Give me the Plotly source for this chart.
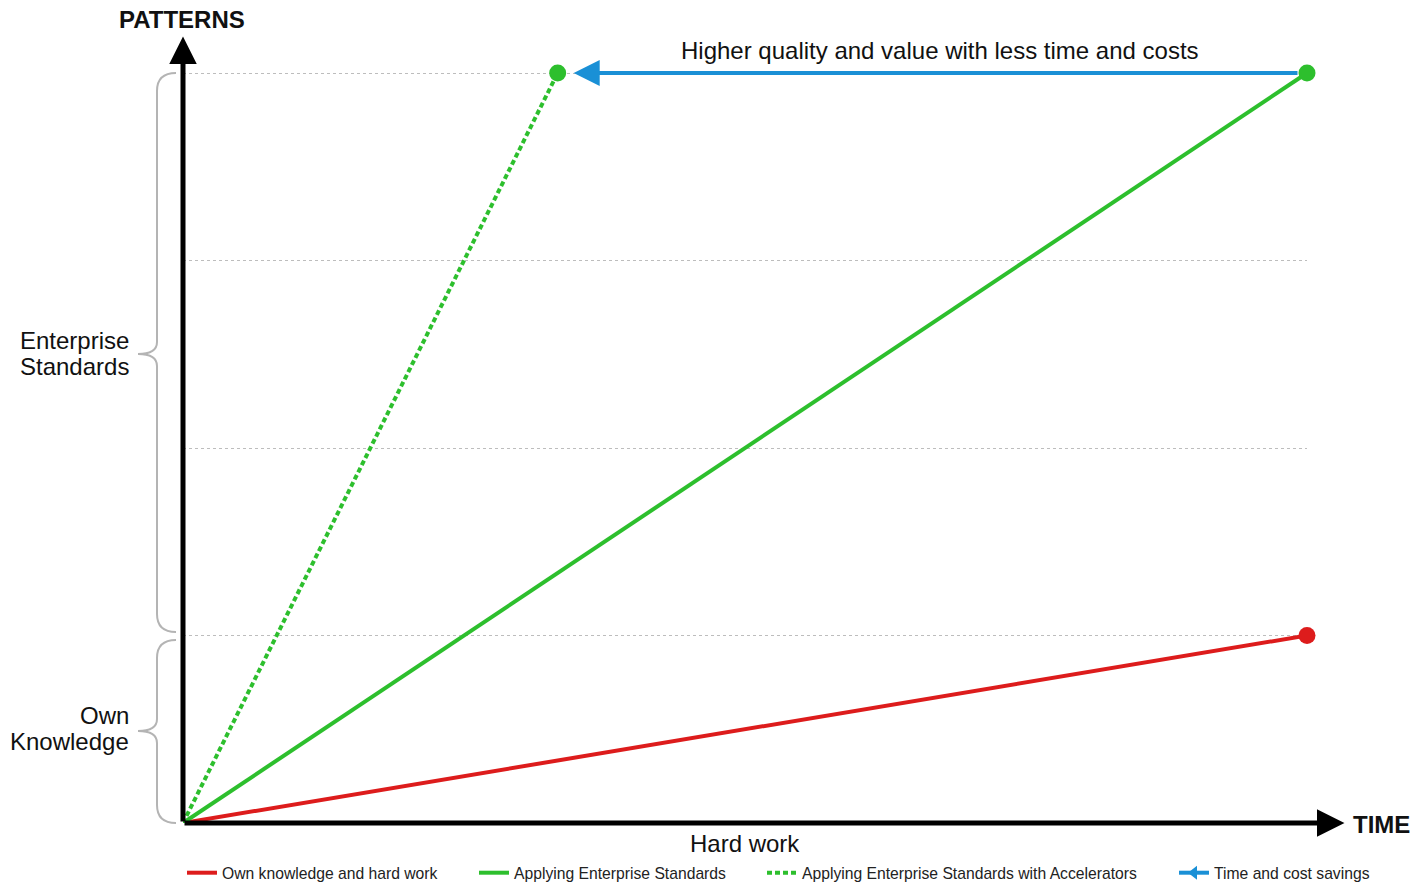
import plotly.graph_objects as go

# Series: effort (time) vs. patterns gained
own_x = [0, 3]
own_y = [0, 1]
std_x = [0, 3]
std_y = [0, 4]
acc_x = [0, 1]
acc_y = [0, 4]

series_names = [
    "Own knowledge and hard work",
    "Applying Enterprise Standards",
    "Applying Enterprise Standards with Accelerators",
    "Time and cost savings",
]

RED = "#dd1c1c"
GREEN = "#2dbf2d"
BLUE = "#1a90d6"
GREY = "#b4b4b4"
FONT = "Liberation Sans, Arial, sans-serif"

W, H = 1412, 882
L, R, T, B = 183, 105, 63, 59
PW, PH = W - L - R, H - T - B
Y_TOP = 4 * PH / 750  # leaves room so the top grid line is drawn inside the plot


def px(xp):
    return (xp - L) / PW


def py(yp):
    return (H - B - yp) / PH


fig = go.Figure()

fig.add_trace(go.Scatter(x=own_x, y=own_y, mode="lines", name=series_names[0],
                         line=dict(color=RED, width=4), legend="legend"))
fig.add_trace(go.Scatter(x=std_x, y=std_y, mode="lines", name=series_names[1],
                         line=dict(color=GREEN, width=4), legend="legend2"))
fig.add_trace(go.Scatter(x=acc_x, y=acc_y, mode="lines", name=series_names[2],
                         line=dict(color=GREEN, width=4, dash="5px,3px"), legend="legend3"))
fig.add_trace(go.Scatter(x=[None], y=[None], mode="lines+markers", name=series_names[3],
                         line=dict(color=BLUE, width=4), legend="legend4",
                         marker=dict(symbol="triangle-left", size=12, color=BLUE)))

# End-point markers
fig.add_trace(go.Scatter(x=[own_x[-1]], y=[own_y[-1]], mode="markers", showlegend=False,
                         marker=dict(color=RED, size=17), cliponaxis=False))
fig.add_trace(go.Scatter(x=[std_x[-1], acc_x[-1]], y=[std_y[-1], acc_y[-1]], mode="markers",
                         showlegend=False, marker=dict(color=GREEN, size=17), cliponaxis=False))

annotations = []

# Time and cost savings arrow
annotations.append(dict(x=acc_x[-1], y=acc_y[-1], ax=std_x[-1], ay=std_y[-1],
                        xref="x", yref="y", axref="x", ayref="y", text="",
                        showarrow=True, arrowhead=2, arrowsize=1.3, arrowwidth=4,
                        arrowcolor=BLUE, standoff=16, startstandoff=8))

# Axis arrows
annotations.append(dict(x=0, y=4.195, ax=0, ay=0, xref="x", yref="y", axref="x", ayref="y",
                        text="", showarrow=True, arrowhead=2, arrowsize=1.1, arrowwidth=5,
                        arrowcolor="black"))
annotations.append(dict(x=3.1, y=0, ax=0, ay=0, xref="x", yref="y", axref="x", ayref="y",
                        text="", showarrow=True, arrowhead=2, arrowsize=1.1, arrowwidth=5,
                        arrowcolor="black"))

# Text labels
labels = [
    dict(x=px(182), y=py(20), text="<b>PATTERNS</b>", xanchor="center"),
    dict(x=px(1351), y=py(824), text="<b>TIME</b>", xanchor="left"),
    dict(x=px(745), y=py(843), text="Hard work", xanchor="center"),
    dict(x=px(940), y=py(51), text="Higher quality and value with less time and costs",
         xanchor="center"),
    dict(x=px(131), y=py(340), text="Enterprise", xanchor="right"),
    dict(x=px(131), y=py(366), text="Standards", xanchor="right"),
    dict(x=px(131), y=py(715), text="Own", xanchor="right"),
    dict(x=px(131), y=py(741), text="Knowledge", xanchor="right"),
]
for a in labels:
    a.update(xref="paper", yref="paper", showarrow=False, yanchor="middle",
             font=dict(family=FONT, size=24, color="#111"))
annotations += labels


def brace(top, bottom, mid):
    xs, xv, xt = px(176), px(157), px(138)
    r = 18 / PH
    tip = 12 / PH
    t, b, m = py(top), py(bottom), py(mid)
    return (f"M {xs},{t} Q {xv},{t} {xv},{t - r} L {xv},{m + tip} "
            f"Q {xv},{m} {xt},{m} Q {xv},{m} {xv},{m - tip} "
            f"L {xv},{b + r} Q {xv},{b} {xs},{b}")


shapes = [
    dict(type="path", xref="paper", yref="paper", path=brace(73, 632, 354),
         line=dict(color=GREY, width=2)),
    dict(type="path", xref="paper", yref="paper", path=brace(640, 823, 731),
         line=dict(color=GREY, width=2)),
]

legend_style = dict(orientation="h", xanchor="left", y=py(873), yanchor="middle",
                    font=dict(family=FONT, size=15.7, color="#222"),
                    bgcolor="rgba(0,0,0,0)", itemwidth=30)

fig.update_layout(
    width=W, height=H,
    margin=dict(l=L, r=R, t=T, b=B, autoexpand=False),
    paper_bgcolor="white", plot_bgcolor="white",
    font=dict(family=FONT, color="#222"),
    xaxis=dict(range=[0, 3], showgrid=False, zeroline=False, showticklabels=False,
               ticks="", showline=False),
    yaxis=dict(range=[0, Y_TOP], tickvals=[1, 2, 3, 4], showgrid=True, gridcolor="#bdbdbd",
               gridwidth=1, griddash="dot", zeroline=False, showticklabels=False, ticks="",
               showline=False),
    showlegend=True,
    legend=dict(x=px(182), **legend_style),
    legend2=dict(x=px(474), **legend_style),
    legend3=dict(x=px(762), **legend_style),
    legend4=dict(x=px(1174), **legend_style),
    annotations=annotations,
    shapes=shapes,
)

fig.write_html("out.html")
